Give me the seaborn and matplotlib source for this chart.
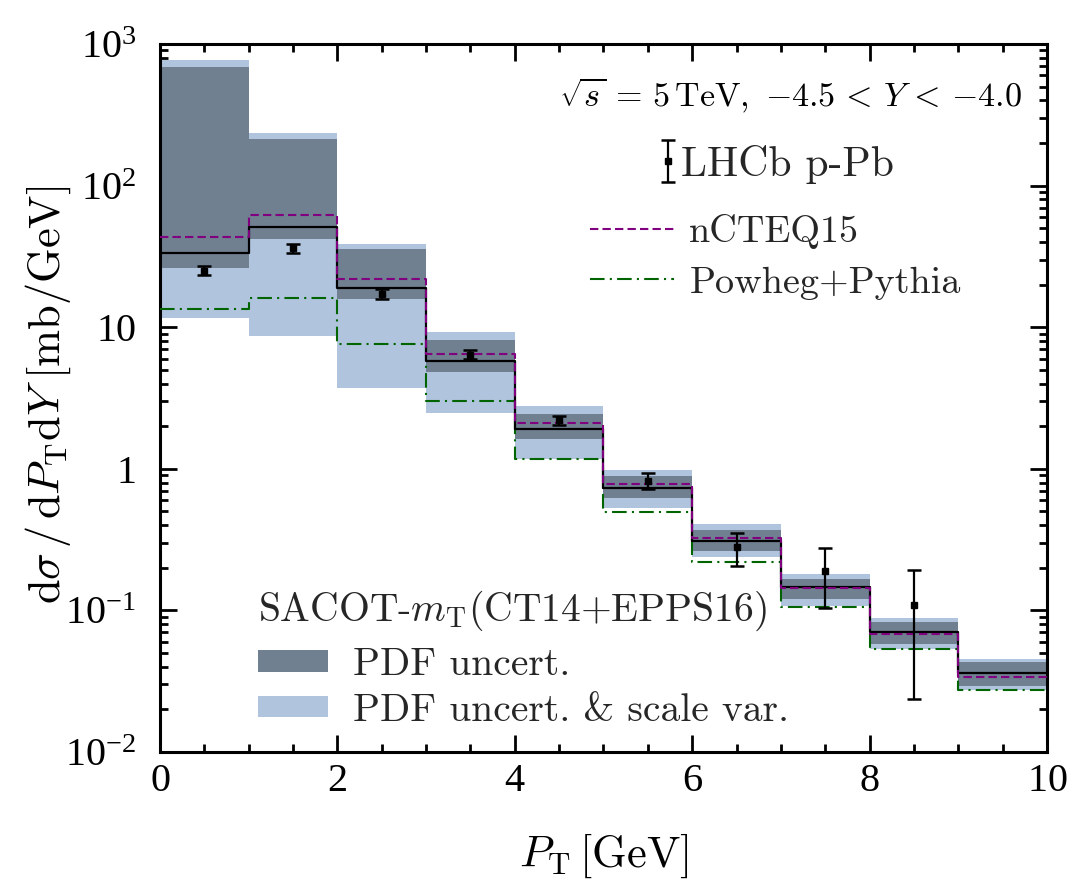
import numpy as np
import matplotlib
matplotlib.use("Agg")
import matplotlib.pyplot as plt
import seaborn as sns
from matplotlib.patches import Patch
from matplotlib.ticker import MultipleLocator, LogLocator, FixedLocator, FixedFormatter, NullFormatter

# ---------------- data ----------------
bin_edges = [0, 1, 2, 3, 4, 5, 6, 7, 8, 9, 10]
central = [33.2, 51.0, 18.8, 5.78, 1.91, 0.736, 0.311, 0.146, 0.0703, 0.0363]
pdf_lo = [26.2, 42.0, 15.7, 4.83, 1.62, 0.622, 0.263, 0.121, 0.0582, 0.0292]
pdf_hi = [692.0, 212.0, 35.4, 8.09, 2.43, 0.885, 0.367, 0.166, 0.0827, 0.0432]
tot_lo = [11.7, 8.73, 3.75, 2.49, 1.17, 0.532, 0.238, 0.108, 0.0536, 0.0275]
tot_hi = [771.0, 236.0, 38.8, 9.27, 2.77, 0.987, 0.405, 0.182, 0.0888, 0.0456]
ncteq15 = [43.5, 61.9, 21.9, 6.52, 2.12, 0.786, 0.324, 0.143, 0.0677, 0.0338]
powheg = [13.5, 16.1, 7.59, 2.99, 1.18, 0.493, 0.221, 0.1055, 0.053, 0.0273]

lhcb_pt = [0.5, 1.5, 2.5, 3.5, 4.5, 5.5, 6.5, 7.5, 8.5]
lhcb_val = [25.0, 36.0, 17.3, 6.34, 2.20, 0.817, 0.280, 0.190, 0.1085]
lhcb_up = [26.9, 38.5, 18.5, 6.85, 2.35, 0.930, 0.352, 0.276, 0.194]
lhcb_dn = [23.2, 33.2, 15.9, 5.93, 2.03, 0.716, 0.206, 0.1037, 0.0238]

xticks = [0, 2, 4, 6, 8, 10]
ytick_vals = [1e-2, 1e-1, 1, 10, 1e2, 1e3]
ytick_labels = [r"$\mathregular{10^{-2}}$", r"$\mathregular{10^{-1}}$", "1", "10",
                r"$\mathregular{10^{2}}$", r"$\mathregular{10^{3}}$"]

# ---------------- style ----------------
sns.set_theme(style="ticks")
plt.rcParams["font.family"] = ["cmr10", "DejaVu Serif"]
plt.rcParams["mathtext.fontset"] = "cm"
plt.rcParams["axes.formatter.use_mathtext"] = True
plt.rcParams["axes.unicode_minus"] = False

C_DARK = "#708090"
C_LIGHT = "#b0c4de"
C_PURPLE = "#800080"
C_GREEN = "#006400"

fig = plt.figure(figsize=(10.68, 8.91), dpi=100)
ax = fig.add_axes([0.1498, 0.156, 0.8305, 0.7946])

def ext(v):
    return np.append(np.asarray(v, float), v[-1])

edges = np.asarray(bin_edges, float)

ax.fill_between(edges, ext(tot_lo), ext(tot_hi), step="post", color=C_LIGHT, lw=0, zorder=1)
ax.fill_between(edges, ext(pdf_lo), ext(pdf_hi), step="post", color=C_DARK, lw=0, zorder=2)

sns.lineplot(x=edges, y=ext(powheg), ax=ax, drawstyle="steps-post", color=C_GREEN,
             linewidth=1.5, legend=False, zorder=3, sort=False)
l_pow = ax.lines[-1]
l_pow.set_linestyle((0, (7, 2.5, 1, 2.5)))
sns.lineplot(x=edges, y=ext(central), ax=ax, drawstyle="steps-post", color="black",
             linewidth=1.6, legend=False, zorder=4, sort=False)
sns.lineplot(x=edges, y=ext(ncteq15), ax=ax, drawstyle="steps-post", color=C_PURPLE,
             linewidth=1.5, legend=False, zorder=5, sort=False)
l_nc = ax.lines[-1]
l_nc.set_linestyle((0, (4, 2)))

yv = np.asarray(lhcb_val)
yerr = np.vstack([yv - np.asarray(lhcb_dn), np.asarray(lhcb_up) - yv])
eb = ax.errorbar(lhcb_pt, yv, yerr=yerr, fmt="s", color="black", ms=4.5,
                 elinewidth=1.6, capsize=5, capthick=1.8, zorder=6)

ax.set_yscale("log")
ax.set_xlim(0, 10)
ax.set_ylim(1e-2, 1e3)

ax.xaxis.set_major_locator(FixedLocator(xticks))
ax.xaxis.set_minor_locator(MultipleLocator(0.5))
ax.yaxis.set_major_locator(FixedLocator(ytick_vals))
ax.yaxis.set_major_formatter(FixedFormatter(ytick_labels))
ax.yaxis.set_minor_locator(LogLocator(base=10, subs=np.arange(2, 10) * 1.0, numticks=20))
ax.yaxis.set_minor_formatter(NullFormatter())

for s in ax.spines.values():
    s.set_linewidth(2.2)
    s.set_color("black")
ax.tick_params(which="both", direction="in", top=True, right=True, color="black")
ax.tick_params(which="major", length=12, width=2.0, labelsize=29, labelcolor="black",
               labelfontfamily="Liberation Serif")
ax.tick_params(which="minor", length=6, width=2.0)
ax.tick_params(axis="x", which="major", pad=8)
ax.tick_params(axis="y", which="major", pad=17)

ax.set_xlabel(r"$P_{\mathrm{T}}\,[\mathrm{GeV}]$", fontsize=32, color="black")
ax.set_ylabel(r"$\mathrm{d}\sigma\,/\,\mathrm{d}P_{\mathrm{T}}\mathrm{d}Y\;[\mathrm{mb}/\mathrm{GeV}]$",
              fontsize=32, color="black")
ax.xaxis.set_label_coords(0.5, -0.112)
ax.yaxis.set_label_coords(-0.098, 0.505)

# annotation
fig.text(1022 / 1068, 1 - 95 / 891,
         r"$\sqrt{s}\,=\,5\,\mathrm{TeV},\ {-4.5} \,<\, Y \,<\, {-4.0}$",
         ha="right", va="center", fontsize=24.5, color="black")

# legends
leg1 = ax.legend([eb], ["LHCb p-Pb"], loc="center left",
                 bbox_to_anchor=(661 / 1068, 1 - 164 / 891), bbox_transform=fig.transFigure,
                 frameon=False, fontsize=30, handlelength=0.35, handletextpad=0.12,
                 borderpad=0, borderaxespad=0)
ax.add_artist(leg1)

leg2 = ax.legend([l_nc, l_pow], ["nCTEQ15", "Powheg+Pythia"], loc="center left",
                 bbox_to_anchor=(590 / 1068, 1 - 257 / 891), bbox_transform=fig.transFigure,
                 frameon=False, fontsize=27.5, handlelength=2.2, handletextpad=0.4,
                 labelspacing=0.43, borderpad=0, borderaxespad=0)
ax.add_artist(leg2)

h_dark = Patch(facecolor=C_DARK, edgecolor="none")
h_light = Patch(facecolor=C_LIGHT, edgecolor="none")
leg3 = ax.legend([h_dark, h_light], ["PDF uncert.", "PDF uncert. & scale var."],
                 title=r"SACOT-$m_{\mathrm{T}}$(CT14+EPPS16)", title_fontsize=28.5,
                 loc="center left", bbox_to_anchor=(258 / 1068, 1 - 659 / 891),
                 bbox_transform=fig.transFigure, frameon=False, fontsize=28.5,
                 handlelength=1.77, handleheight=0.45, handletextpad=0.62,
                 labelspacing=0.25, borderpad=0, borderaxespad=0)
leg3._legend_box.align = "left"
leg3._legend_box.sep = 10

fig.savefig("out.png", dpi=100)
